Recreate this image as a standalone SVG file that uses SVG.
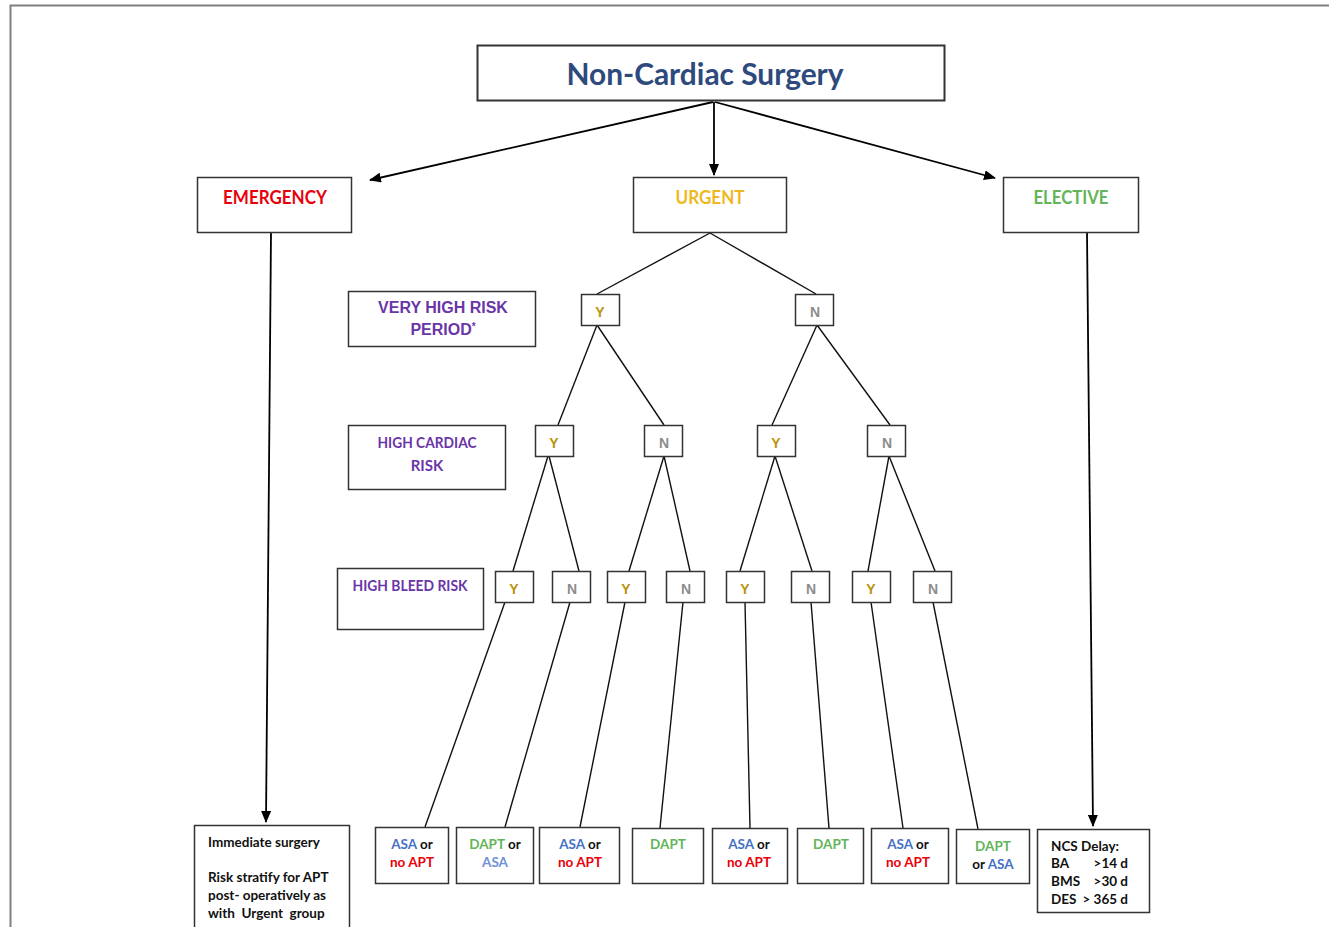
<svg xmlns="http://www.w3.org/2000/svg" width="1329" height="927" viewBox="0 0 1329 927">
<defs>
<marker id="ah" viewBox="0 0 12 10" refX="11" refY="5" markerWidth="12" markerHeight="10" markerUnits="userSpaceOnUse" orient="auto">
<path d="M0,0 L12,5 L0,10 Z" fill="#000"/>
</marker>
<style>
.box{fill:#fff;stroke:#333;stroke-width:1.5}
.c{font-family:Lato,"Liberation Sans",sans-serif;font-weight:bold}
.a{font-family:"Liberation Sans",Arial,sans-serif;font-weight:bold}
.ln{stroke:#111;stroke-width:1.4;fill:none}
.arr{stroke:#000;stroke-width:1.8;fill:none;marker-end:url(#ah)}
.y{fill:#b8940f;font-size:14px}
.n{fill:#8c8c8c;font-size:14px}
.pu{fill:#6a35a8}
.bl{fill:#4472c4}
.lb{fill:#6f8fd8}
.rd{fill:#e8000b}
.gr{fill:#62b558}
.bk{fill:#111}
.s{font-size:13.5px}
</style>
</defs>
<rect width="1329" height="927" fill="#fff"/>
<path d="M10.5,927 L10.5,5.5 L1329,5.5" fill="none" stroke="#808080" stroke-width="2"/>

<g id="connectors">
<line class="arr" x1="713" y1="102" x2="370" y2="180"/>
<line class="arr" x1="714" y1="102" x2="714" y2="175"/>
<line class="arr" x1="715" y1="102" x2="995" y2="178"/>
<line class="arr" x1="271" y1="233" x2="266" y2="822"/>
<line class="arr" x1="1087" y1="233" x2="1093" y2="826"/>
<line class="ln" x1="710" y1="233" x2="597" y2="294"/>
<line class="ln" x1="710" y1="233" x2="816" y2="294"/>
<line class="ln" x1="597" y1="325" x2="558" y2="425"/>
<line class="ln" x1="597" y1="325" x2="664" y2="425"/>
<line class="ln" x1="817" y1="325" x2="772" y2="425"/>
<line class="ln" x1="817" y1="325" x2="890" y2="425"/>
<line class="ln" x1="548" y1="456" x2="513" y2="571"/>
<line class="ln" x1="549" y1="456" x2="579" y2="571"/>
<line class="ln" x1="664" y1="456" x2="629" y2="571"/>
<line class="ln" x1="664" y1="456" x2="690" y2="571"/>
<line class="ln" x1="775" y1="456" x2="740" y2="571"/>
<line class="ln" x1="775" y1="456" x2="812" y2="571"/>
<line class="ln" x1="889" y1="456" x2="868" y2="571"/>
<line class="ln" x1="889" y1="456" x2="935" y2="571"/>
<line class="ln" x1="505" y1="602" x2="425" y2="827"/>
<line class="ln" x1="570" y1="602" x2="505" y2="827"/>
<line class="ln" x1="625" y1="602" x2="580" y2="827"/>
<line class="ln" x1="683" y1="602" x2="660" y2="828"/>
<line class="ln" x1="745" y1="602" x2="750" y2="828"/>
<line class="ln" x1="811" y1="602" x2="829" y2="828"/>
<line class="ln" x1="871" y1="602" x2="903" y2="828"/>
<line class="ln" x1="933" y1="602" x2="978" y2="829"/>
</g>

<g id="title">
<rect x="477.5" y="45.5" width="467" height="55" fill="#fff" stroke="#333" stroke-width="2"/>
<text class="c" x="705" y="85" font-size="31" fill="#2e4a7d" text-anchor="middle" textLength="277" lengthAdjust="spacingAndGlyphs">Non-Cardiac Surgery</text>
</g>

<g id="emergency">
<rect class="box" x="197.5" y="177.5" width="154" height="55"/>
<text class="c rd" x="275" y="204" font-size="18" text-anchor="middle" textLength="104" lengthAdjust="spacingAndGlyphs">EMERGENCY</text>
</g>
<g id="urgent">
<rect class="box" x="633.5" y="177.5" width="153" height="55"/>
<text class="c" x="710" y="204" font-size="18" fill="#f0b820" text-anchor="middle" textLength="69" lengthAdjust="spacingAndGlyphs">URGENT</text>
</g>
<g id="elective">
<rect class="box" x="1003.5" y="177.5" width="135" height="55"/>
<text class="c gr" x="1071" y="204" font-size="18" text-anchor="middle" textLength="75" lengthAdjust="spacingAndGlyphs">ELECTIVE</text>
</g>

<g id="label-very-high-risk">
<rect class="box" x="348.5" y="291.5" width="187" height="55"/>
<text class="a pu" x="443" y="313" font-size="16" text-anchor="middle">VERY HIGH RISK</text>
<text class="a pu" x="443" y="335" font-size="16" text-anchor="middle">PERIOD<tspan font-size="10" dy="-5">*</tspan></text>
</g>
<g id="label-high-cardiac-risk">
<rect class="box" x="348.5" y="425.5" width="157" height="64"/>
<text class="c pu" x="427" y="448" font-size="15" text-anchor="middle" textLength="99" lengthAdjust="spacingAndGlyphs">HIGH CARDIAC</text>
<text class="c pu" x="427" y="471" font-size="15" text-anchor="middle">RISK</text>
</g>
<g id="label-high-bleed-risk">
<rect class="box" x="337.5" y="568.5" width="146" height="61"/>
<text class="c pu" x="410" y="591" font-size="15" text-anchor="middle" textLength="115" lengthAdjust="spacingAndGlyphs">HIGH BLEED RISK</text>
</g>

<g id="l1-y"><rect class="box" x="581.5" y="294.5" width="38" height="31"/><text class="a y" x="600" y="317" text-anchor="middle">Y</text></g>
<g id="l1-n"><rect class="box" x="795.5" y="294.5" width="38" height="31"/><text class="a n" x="815" y="317" text-anchor="middle">N</text></g>

<g id="l2-y1"><rect class="box" x="535.5" y="425.5" width="38" height="31"/><text class="a y" x="554" y="448" text-anchor="middle">Y</text></g>
<g id="l2-n1"><rect class="box" x="644.5" y="425.5" width="38" height="31"/><text class="a n" x="664" y="448" text-anchor="middle">N</text></g>
<g id="l2-y2"><rect class="box" x="757.5" y="425.5" width="38" height="31"/><text class="a y" x="776" y="448" text-anchor="middle">Y</text></g>
<g id="l2-n2"><rect class="box" x="867.5" y="425.5" width="38" height="31"/><text class="a n" x="887" y="448" text-anchor="middle">N</text></g>

<g id="l3-y1"><rect class="box" x="495.5" y="571.5" width="38" height="31"/><text class="a y" x="514" y="594" text-anchor="middle">Y</text></g>
<g id="l3-n1"><rect class="box" x="552.5" y="571.5" width="38" height="31"/><text class="a n" x="572" y="594" text-anchor="middle">N</text></g>
<g id="l3-y2"><rect class="box" x="607.5" y="571.5" width="38" height="31"/><text class="a y" x="626" y="594" text-anchor="middle">Y</text></g>
<g id="l3-n2"><rect class="box" x="666.5" y="571.5" width="38" height="31"/><text class="a n" x="686" y="594" text-anchor="middle">N</text></g>
<g id="l3-y3"><rect class="box" x="726.5" y="571.5" width="38" height="31"/><text class="a y" x="745" y="594" text-anchor="middle">Y</text></g>
<g id="l3-n3"><rect class="box" x="791.5" y="571.5" width="38" height="31"/><text class="a n" x="811" y="594" text-anchor="middle">N</text></g>
<g id="l3-y4"><rect class="box" x="852.5" y="571.5" width="38" height="31"/><text class="a y" x="871" y="594" text-anchor="middle">Y</text></g>
<g id="l3-n4"><rect class="box" x="913.5" y="571.5" width="38" height="31"/><text class="a n" x="933" y="594" text-anchor="middle">N</text></g>

<g id="immediate">
<rect class="box" x="194.5" y="825.5" width="155" height="110"/>
<text class="c bk s" x="208" y="847" font-size="13">Immediate surgery</text>
<text class="c bk s" x="208" y="882" font-size="13">Risk stratify for APT</text>
<text class="c bk s" x="208" y="900" font-size="13">post- operatively as</text>
<text class="c bk s" x="208" y="918" font-size="13" xml:space="preserve">with  Urgent  group</text>
</g>

<g id="out1"><rect class="box" x="375.5" y="827.5" width="73" height="56"/>
<text class="c s" x="412" y="849" text-anchor="middle"><tspan class="bl">ASA</tspan><tspan class="bk"> or</tspan></text>
<text class="c s rd" x="412" y="867" text-anchor="middle">no APT</text></g>
<g id="out2"><rect class="box" x="456.5" y="827.5" width="77" height="56"/>
<text class="c s" x="495" y="849" text-anchor="middle"><tspan class="gr">DAPT</tspan><tspan class="bk"> or</tspan></text>
<text class="c s lb" x="495" y="867" text-anchor="middle">ASA</text></g>
<g id="out3"><rect class="box" x="539.5" y="827.5" width="80" height="56"/>
<text class="c s" x="580" y="849" text-anchor="middle"><tspan class="bl">ASA</tspan><tspan class="bk"> or</tspan></text>
<text class="c s rd" x="580" y="867" text-anchor="middle">no APT</text></g>
<g id="out4"><rect class="box" x="632.5" y="828.5" width="71" height="55"/>
<text class="c s gr" x="668" y="849" text-anchor="middle">DAPT</text></g>
<g id="out5"><rect class="box" x="712.5" y="828.5" width="75" height="55"/>
<text class="c s" x="749" y="849" text-anchor="middle"><tspan class="bl">ASA</tspan><tspan class="bk"> or</tspan></text>
<text class="c s rd" x="749" y="867" text-anchor="middle">no APT</text></g>
<g id="out6"><rect class="box" x="797.5" y="828.5" width="66" height="55"/>
<text class="c s gr" x="831" y="849" text-anchor="middle">DAPT</text></g>
<g id="out7"><rect class="box" x="871.5" y="828.5" width="77" height="55"/>
<text class="c s" x="908" y="849" text-anchor="middle"><tspan class="bl">ASA</tspan><tspan class="bk"> or</tspan></text>
<text class="c s rd" x="908" y="867" text-anchor="middle">no APT</text></g>
<g id="out8"><rect class="box" x="956.5" y="829.5" width="73" height="54"/>
<text class="c s gr" x="993" y="851" text-anchor="middle">DAPT</text>
<text class="c s" x="993" y="869" text-anchor="middle"><tspan class="bk">or </tspan><tspan class="bl">ASA</tspan></text></g>

<g id="ncs-delay"><rect class="box" x="1037.5" y="829.5" width="112" height="83"/>
<text class="c bk s" x="1051" y="851">NCS Delay:</text>
<text class="c bk s" x="1051" y="868">BA</text><text class="c bk s" x="1128" y="868" text-anchor="end">&gt;14 d</text>
<text class="c bk s" x="1051" y="886">BMS</text><text class="c bk s" x="1128" y="886" text-anchor="end">&gt;30 d</text>
<text class="c bk s" x="1051" y="904">DES</text><text class="c bk s" x="1128" y="904" text-anchor="end">&gt; 365 d</text></g>
</svg>
